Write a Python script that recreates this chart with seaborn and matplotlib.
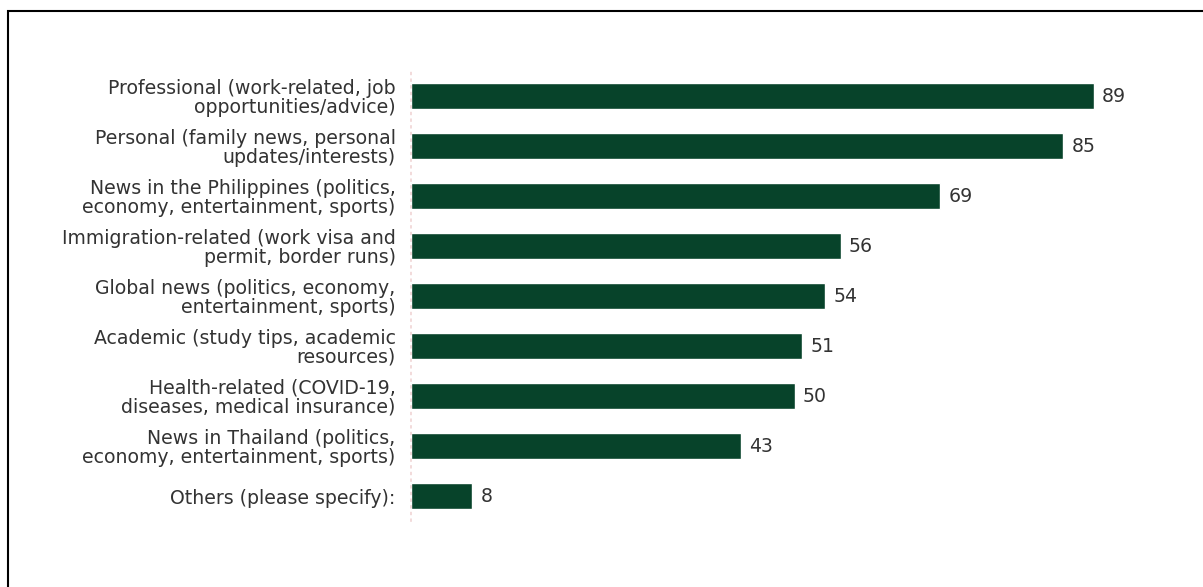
import matplotlib.pyplot as plt
import seaborn as sns
from matplotlib.patches import Rectangle

categories = [
    "Professional (work-related, job\nopportunities/advice)",
    "Personal (family news, personal\nupdates/interests)",
    "News in the Philippines (politics,\neconomy, entertainment, sports)",
    "Immigration-related (work visa and\npermit, border runs)",
    "Global news (politics, economy,\nentertainment, sports)",
    "Academic (study tips, academic\nresources)",
    "Health-related (COVID-19,\ndiseases, medical insurance)",
    "News in Thailand (politics,\neconomy, entertainment, sports)",
    "Others (please specify):",
]
counts = [89, 85, 69, 56, 54, 51, 50, 43, 8]

BAR_COLOR = "#07432a"
TEXT_COLOR = "#333333"
FONT_SIZE = 13.6

sns.set_theme(style="white")
plt.rcParams["font.family"] = ["DejaVu Sans"]

fig = plt.figure(figsize=(12.03, 5.87), dpi=100)
ax = fig.add_axes([411 / 1203, 1 - 521 / 587, (1178 - 411) / 1203, 450 / 587])

sns.barplot(x=counts, y=categories, orient="h", color=BAR_COLOR,
            width=0.52, saturation=1, ax=ax)

for i, v in enumerate(counts):
    ax.text(v + 1.1, i, str(v), va="center", ha="left",
            fontsize=FONT_SIZE, color=TEXT_COLOR)

ax.set_xlim(0, 100)
ax.set_ylim(8.5, -0.5)
ax.set_xticks([])
ax.tick_params(axis="y", length=0, pad=11, labelsize=FONT_SIZE,
               labelcolor=TEXT_COLOR)
for lbl in ax.get_yticklabels():
    lbl.set_multialignment("right")
    lbl.set_linespacing(0.97)
ax.set_xlabel("")
ax.set_ylabel("")
for side in ["top", "right", "bottom"]:
    ax.spines[side].set_visible(False)
ax.spines["left"].set_color("#f0d4d4")
ax.spines["left"].set_linestyle((0, (1, 3)))
ax.spines["left"].set_linewidth(1.2)

# outer frame of the screenshot
fig.patches.append(Rectangle((8 / 1203, -0.1), 1.2, 1 - 11 / 587 + 0.1,
                             transform=fig.transFigure, fill=False,
                             edgecolor="black", linewidth=1.5))

fig.savefig("out.png", dpi=100)
